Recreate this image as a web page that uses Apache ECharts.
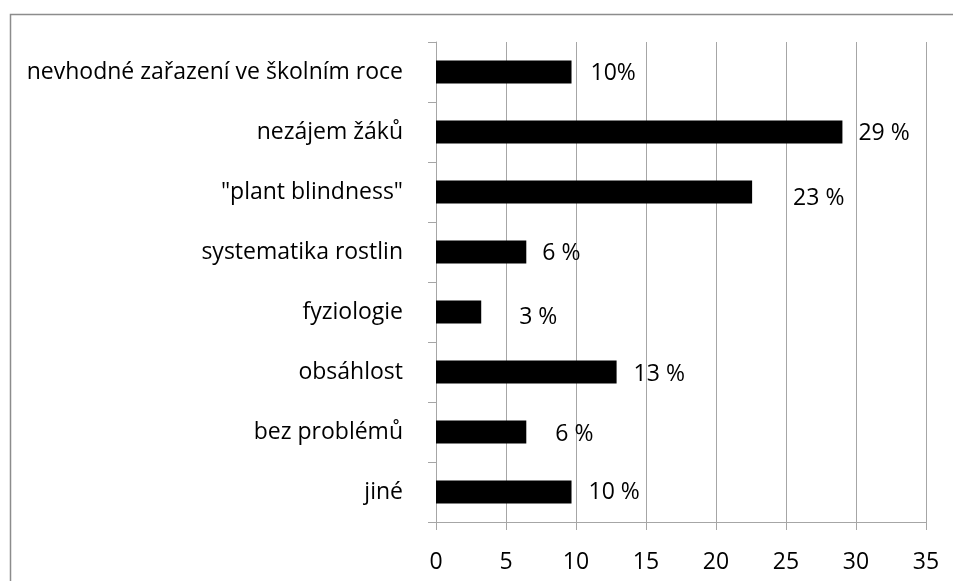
<!DOCTYPE html>
<html>
<head>
<meta charset="utf-8">
<title>Problémy ve výuce botaniky</title>
<script src="https://cdn.jsdelivr.net/npm/echarts@6/dist/echarts.min.js"></script>
<style>
  html, body { margin: 0; padding: 0; background: #fff; }
  #chart { width: 953px; height: 581px; }
</style>
</head>
<body>
<div id="chart"></div>
<script>
// Answer categories, listed top to bottom
const categories = [
  'nevhodné zařazení ve školním roce',
  'nezájem žáků',
  '"plant blindness"',
  'systematika rostlin',
  'fyziologie',
  'obsáhlost',
  'bez problémů',
  'jiné'
];

// Share of respondents per answer, in percent
const shares = [9.68, 29.03, 22.58, 6.45, 3.23, 12.9, 6.45, 9.68];

// Separator between the number and the percent sign in each value label
const percentSeparators = ['', ' ', ' ', ' ', ' ', ' ', ' ', ' '];

// Value axis ticks
const axisMin = 0;
const axisMax = 35;
const axisStep = 5;

// Hand-placed label nudges [dx, dy] measured from the end of each bar
const labelNudges = [[19, 1], [16, 1], [41, 6], [16, 1], [38, 5], [17, 2], [29, 2], [17, 0]];

const FONT = '"Open Sans", "Noto Sans", sans-serif';
const GRID_GRAY = '#a6a6a6';
const TEXT_SIZE = 23;

const chart = echarts.init(document.getElementById('chart'), null, { renderer: 'canvas' });

chart.setOption({
  animation: false,
  backgroundColor: '#ffffff',
  textStyle: { fontFamily: FONT },
  graphic: [{
    type: 'rect',
    left: 8,
    top: 12,
    shape: { width: 1200, height: 1200 },
    style: { fill: 'none', stroke: '#8c8c8c', lineWidth: 1.5 },
    silent: true
  }],
  grid: { left: 436, right: 27, top: 42, bottom: 59, containLabel: false },
  xAxis: {
    type: 'value',
    min: axisMin,
    max: axisMax,
    interval: axisStep,
    axisLine: { show: true, lineStyle: { color: GRID_GRAY, width: 1 } },
    axisTick: { show: true, length: 8, lineStyle: { color: GRID_GRAY } },
    splitLine: { show: true, lineStyle: { color: GRID_GRAY, width: 1 } },
    axisLabel: { color: '#000', fontSize: TEXT_SIZE, fontFamily: FONT, margin: 29 }
  },
  yAxis: {
    type: 'category',
    data: categories,
    inverse: true,
    axisLine: { show: true, lineStyle: { color: GRID_GRAY, width: 1 } },
    axisTick: { show: true, length: 8, lineStyle: { color: GRID_GRAY } },
    axisLabel: { color: '#000', fontSize: TEXT_SIZE, fontFamily: FONT, margin: 33 }
  },
  series: [{
    type: 'bar',
    data: shares.map((v, i) => ({
      value: v,
      label: { offset: labelNudges[i] }
    })),
    barWidth: 23,
    itemStyle: { color: '#000' },
    label: {
      show: true,
      position: 'right',
      distance: 0,
      color: '#000',
      fontSize: TEXT_SIZE,
      fontFamily: FONT,
      formatter: p => Math.round(p.value) + percentSeparators[p.dataIndex] + '%'
    }
  }]
});
</script>
</body>
</html>
